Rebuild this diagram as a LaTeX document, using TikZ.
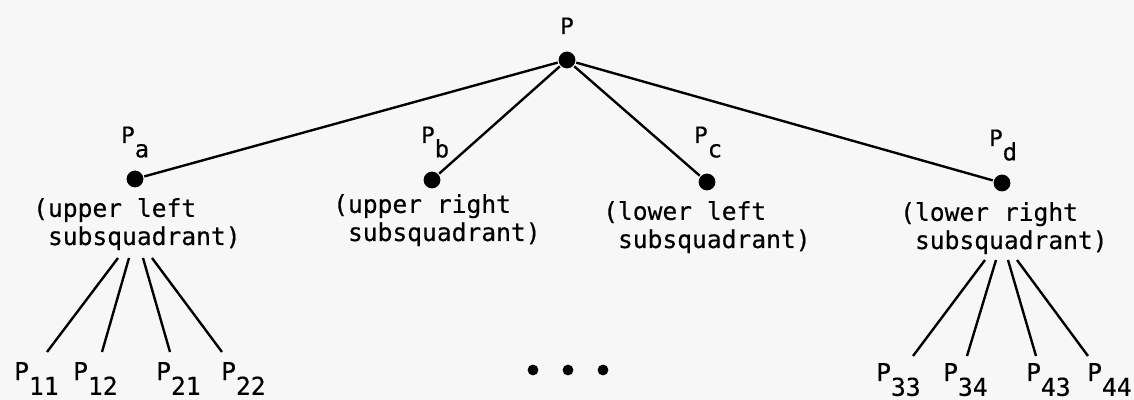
\documentclass[tikz,border=0pt]{standalone}
\usepackage{fontspec}
\setmainfont{DejaVu Sans Mono}[FakeBold=0.4]
\usetikzlibrary{positioning}
\tikzset{font=\fontsize{17.5}{20}\selectfont}
\tikzset{pdot/.style={circle,fill=black,inner sep=0pt,minimum size=0.42cm}}
\tikzset{smalldot/.style={circle,fill=black,inner sep=0pt,minimum size=0.27cm}}
\tikzset{ptlabel/.style={inner sep=0pt,font=\fontsize{16}{18}\selectfont}}
\tikzset{quadtext/.style={inner sep=0pt,align=left,anchor=base west}}
\tikzset{leaf/.style={inner sep=0pt,anchor=base west}}
\newcommand{\lowsub}[1]{\raisebox{-0.37cm}{#1}}
\newcommand{\lettersub}[1]{\raisebox{-0.36cm}{\fontsize{17}{18}\selectfont #1}}

\begin{document}
\begin{tikzpicture}[x=0.025cm,y=-0.025cm,line width=1.7pt]
  \fill[black!3] (0,0) rectangle (1134,400);
  \useasboundingbox (0,0) rectangle (1134,400);

  % root and its four subquadrants
  \node[pdot] (P) at (567,60) {};
  \node[pdot] (Pa) at (135,179) {};
  \node[pdot] (Pb) at (432,180) {};
  \node[pdot] (Pc) at (707,182) {};
  \node[pdot] (Pd) at (1002,183) {};
  \draw (P) -- (Pa);
  \draw (P) -- (Pb);
  \draw (P) -- (Pc);
  \draw (P) -- (Pd);

  \node[ptlabel,anchor=base] (lP) at (567,34) {P};
  \node[ptlabel,anchor=base west] (lPa) at (120,143) {P\lettersub{a}};
  \node[ptlabel,anchor=base west] (lPb) at (420,143) {P\lettersub{b}};
  \node[ptlabel,anchor=base west] (lPc) at (693,143) {P\lettersub{c}};
  \node[ptlabel,anchor=base west] (lPd) at (988,146) {P\lettersub{d}};

  % base anchor sits on the second line
  \node[quadtext] (ul) at (32,245) {(upper left\\\hphantom{(}subsquadrant)};
  \node[quadtext] (ur) at (332,241) {(upper right\\\hphantom{(}subsquadrant)};
  \node[quadtext] (ll) at (602,248) {(lower left\\\hphantom{(}subsquadrant)};
  \node[quadtext] (lr) at (899,249) {(lower right\\\hphantom{(}subsquadrant)};

  % sons of the upper left subsquadrant
  \coordinate (t11) at (118,258);
  \coordinate (t12) at (129,258);
  \coordinate (t21) at (143,258);
  \coordinate (t22) at (152,258);
  \coordinate (b11) at (47,352);
  \coordinate (b12) at (102,352);
  \coordinate (b21) at (170,352);
  \coordinate (b22) at (222,352);
  \draw (t11) -- (b11);
  \draw (t12) -- (b12);
  \draw (t21) -- (b21);
  \draw (t22) -- (b22);
  \node[leaf] (p11) at (13,380) {P\lowsub{11}};
  \node[leaf] (p12) at (72,380) {P\lowsub{12}};
  \node[leaf] (p21) at (155,380) {P\lowsub{21}};
  \node[leaf] (p22) at (220,380) {P\lowsub{22}};

  % sons of the lower right subsquadrant
  \coordinate (t33) at (985,260);
  \coordinate (t34) at (996,260);
  \coordinate (t43) at (1008,260);
  \coordinate (t44) at (1017,260);
  \coordinate (b33) at (913,356);
  \coordinate (b34) at (967,356);
  \coordinate (b43) at (1036,356);
  \coordinate (b44) at (1088,356);
  \draw (t33) -- (b33);
  \draw (t34) -- (b34);
  \draw (t43) -- (b43);
  \draw (t44) -- (b44);
  \node[leaf] (p33) at (875,381) {P\lowsub{33}};
  \node[leaf] (p34) at (942,381) {P\lowsub{34}};
  \node[leaf] (p43) at (1025,381) {P\lowsub{43}};
  \node[leaf] (p44) at (1086,381) {P\lowsub{44}};

  \node[smalldot] (e1) at (533,370) {};
  \node[smalldot] (e2) at (568,370) {};
  \node[smalldot] (e3) at (603,370) {};
\end{tikzpicture}
\end{document}
